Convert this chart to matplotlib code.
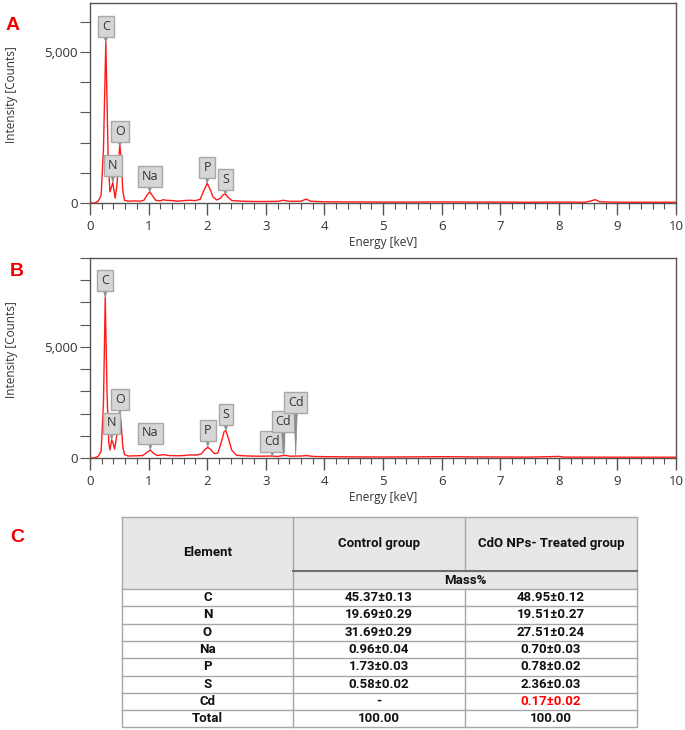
import matplotlib.pyplot as plt
import matplotlib.ticker as mticker
import numpy as np

# EDS spectrum A (control)
energy_a = [0.0, 0.08, 0.14, 0.19, 0.23, 0.27, 0.31, 0.34, 0.37, 0.39, 0.41, 0.43, 0.46, 0.49,
            0.51, 0.53, 0.56, 0.59, 0.65, 0.75, 0.85, 0.92, 0.97, 1.02, 1.07, 1.12, 1.2, 1.25,
            1.3, 1.4, 1.5, 1.6, 1.7, 1.8, 1.88, 1.94, 2.0, 2.05, 2.1, 2.16, 2.22, 2.27, 2.31,
            2.35, 2.42, 2.6, 2.8, 3.0, 3.2, 3.3, 3.4, 3.6, 3.69, 3.76, 4.0, 4.5, 5.0, 5.5, 6.0,
            6.5, 7.0, 7.5, 8.0, 8.45, 8.55, 8.62, 8.7, 9.0, 9.5, 10.0]
counts_a = [0, 0, 60, 250, 1800, 5330, 1500, 370, 550, 670, 400, 160, 600, 1500,
            1920, 1500, 400, 90, 60, 70, 60, 90, 250, 370, 230, 90, 70, 110,
            90, 80, 60, 80, 90, 80, 120, 400, 650, 450, 200, 100, 150, 270, 300,
            200, 80, 60, 50, 50, 55, 90, 55, 60, 130, 60, 40, 35, 30, 30, 35,
            30, 30, 25, 30, 25, 70, 110, 40, 25, 25, 25]

# EDS spectrum B (CdO NPs treated)
energy_b = [0.0, 0.08, 0.14, 0.19, 0.23, 0.26, 0.29, 0.32, 0.34, 0.37, 0.39, 0.42, 0.45, 0.49,
            0.51, 0.53, 0.56, 0.59, 0.65, 0.8, 0.9, 0.97, 1.03, 1.09, 1.15, 1.25, 1.35, 1.5,
            1.6, 1.7, 1.8, 1.9, 1.96, 2.01, 2.06, 2.12, 2.18, 2.24, 2.29, 2.32, 2.36, 2.42,
            2.5, 2.7, 2.9, 3.1, 3.2, 3.32, 3.42, 3.6, 3.7, 3.8, 4.0, 4.5, 5.0, 5.5, 6.0, 6.5,
            7.0, 7.5, 8.0, 8.1, 8.5, 9.0, 10.0]
counts_b = [0, 0, 80, 300, 2500, 7220, 3000, 700, 360, 810, 700, 400, 900, 1800,
            2010, 1600, 500, 150, 90, 100, 110, 250, 360, 200, 110, 150, 110, 100,
            110, 140, 130, 180, 380, 480, 380, 200, 220, 700, 1200, 1220, 900, 350,
            120, 90, 80, 90, 70, 120, 80, 90, 110, 70, 60, 50, 45, 50, 60, 50,
            45, 40, 70, 40, 40, 35, 35]

# peak labels: element, energy
labels_a = ['C', 'N', 'O', 'Na', 'P', 'S']
label_e_a = [0.27, 0.39, 0.51, 1.02, 2.0, 2.31]
labels_b = ['C', 'N', 'O', 'Na', 'P', 'S', 'Cd', 'Cd', 'Cd']
label_e_b = [0.26, 0.37, 0.51, 1.03, 2.01, 2.32, 3.11, 3.30, 3.51]
# how far above the peak each box sits (pixels)
lift_a = [15, 17, 13, 15, 16, 14]
lift_b = [17, 17, 14, 17, 17, 16, 15, 34, 54]

# table C
elements = ['C', 'N', 'O', 'Na', 'P', 'S', 'Cd', 'Total']
control = ['45.37±0.13', '19.69±0.29', '31.69±0.29', '0.96±0.04', '1.73±0.03',
           '0.58±0.02', '-', '100.00']
treated = ['48.95±0.12', '19.51±0.27', '27.51±0.24', '0.70±0.03', '0.78±0.02',
           '2.36±0.03', '0.17±0.02', '100.00']

W, H = 685, 730
fig = plt.figure(figsize=(W / 100, H / 100), dpi=100)
plt.rcParams['font.family'] = ['Open Sans', 'DejaVu Sans']

grey = '#555555'


def spectrum(top, ymax, e, c, labs, le, lift):
    ax = fig.add_axes([90 / W, 1 - (top + 200) / H, 586 / W, 200 / H])
    ax.plot(e, c, color='#ff1a1a', lw=1.0, zorder=3)
    ax.set_xlim(0, 10)
    ax.set_ylim(0, ymax)
    ax.set_xticks(range(11))
    ax.xaxis.set_minor_locator(mticker.MultipleLocator(0.2))
    ax.set_yticks([0, 5000])
    ax.set_yticklabels(['0', '5,000'])
    ax.yaxis.set_minor_locator(mticker.MultipleLocator(1000))
    ax.tick_params(axis='x', which='major', length=8.5, width=1, color=grey,
                   labelsize=9.5, labelcolor='#333333', pad=4)
    ax.tick_params(axis='x', which='minor', length=4, width=0.8, color=grey)
    ax.tick_params(axis='y', which='both', length=7, width=0.8, color=grey,
                   labelsize=9.5, labelcolor='#333333', pad=2)
    for s in ax.spines.values():
        s.set_color(grey)
        s.set_linewidth(1)
    ax.set_xlabel('Energy [keV]', fontsize=8.5, color='#333333', labelpad=2)
    for lab, en, dy in zip(labs, le, lift):
        yv = np.interp(en, e, c)
        ax.annotate(lab, xy=(en, yv), xytext=(0, dy), textcoords='offset pixels',
                    ha='center', va='center', fontsize=9, color='#333333', zorder=5,
                    bbox=dict(boxstyle='square,pad=0.32', fc='#d6d6d6', ec='#a8a8a8', lw=1),
                    arrowprops=dict(arrowstyle='wedge,tail_width=0.25', fc='#8c8c8c',
                                    ec='#8c8c8c', lw=0.5, shrinkA=0, shrinkB=0))
    return ax


ax_a = spectrum(3, 6620, energy_a, counts_a, labels_a, label_e_a, lift_a)
ax_b = spectrum(258, 9000, energy_b, counts_b, labels_b, label_e_b, lift_b)
fig.text(12 / W, 1 - 95 / H, 'Intensity [Counts]', rotation=90, ha='center', va='center',
         fontsize=8.5, color='#333333')
fig.text(12 / W, 1 - 350 / H, 'Intensity [Counts]', rotation=90, ha='center', va='center',
         fontsize=8.5, color='#333333')

# overlay in pixel coordinates for the letters and the table
ov = fig.add_axes([0, 0, 1, 1], zorder=-1)
ov.set_xlim(0, W)
ov.set_ylim(H, 0)
ov.axis('off')
for t, x, y in [('A', 13, 25), ('B', 17, 272), ('C', 17, 537)]:
    ov.text(x, y, t, color='#ee0000', fontsize=14, fontweight='bold', ha='center', va='center',
            family=['Liberation Sans', 'DejaVu Sans'])

cx = [122, 293, 465, 637]
t_top, t_sub, t_data = 517, 571, 589
rh = 17.3
t_bot = t_data + rh * len(elements)
line_c = '#a6a6a6'
tfont = dict(fontsize=9.5, fontweight='bold', ha='center', va='center', family=['Roboto', 'DejaVu Sans'])

ov.add_patch(plt.Rectangle((cx[0], t_top), cx[3] - cx[0], t_data - t_top, fc='#e7e7e7', ec='none'))
ov.plot([cx[0], cx[3], cx[3], cx[0], cx[0]], [t_top, t_top, t_bot, t_bot, t_top], color=line_c, lw=1)
ov.plot([cx[1], cx[1]], [t_top, t_bot], color=line_c, lw=1)
ov.plot([cx[2], cx[2]], [t_top, t_sub], color=line_c, lw=1)
ov.plot([cx[2], cx[2]], [t_data, t_bot], color=line_c, lw=1)
ov.plot([cx[1], cx[3]], [t_sub, t_sub], color='#6e6e6e', lw=1.5)
for i in range(len(elements)):
    yy = t_data + rh * i
    ov.plot([cx[0], cx[3]], [yy, yy], color=line_c, lw=1)

ov.text((cx[0] + cx[1]) / 2, (t_top + t_data) / 2, 'Element', color='#111111', **tfont)
ov.text((cx[1] + cx[2]) / 2, (t_top + t_sub) / 2 - 1, 'Control group', color='#111111', **tfont)
ov.text((cx[2] + cx[3]) / 2, (t_top + t_sub) / 2 - 1, 'CdO NPs- Treated group', color='#111111', **tfont)
ov.text((cx[1] + cx[3]) / 2, (t_sub + t_data) / 2, 'Mass%', color='#111111', **tfont)
for i, (el, c1, c2) in enumerate(zip(elements, control, treated)):
    yy = t_data + rh * (i + 0.5)
    ov.text((cx[0] + cx[1]) / 2, yy, el, color='#111111', **tfont)
    ov.text((cx[1] + cx[2]) / 2, yy, c1, color='#111111', **tfont)
    ov.text((cx[2] + cx[3]) / 2, yy, c2, color='#ff0000' if el == 'Cd' else '#111111', **tfont)

fig.savefig('out.png', dpi=100)
